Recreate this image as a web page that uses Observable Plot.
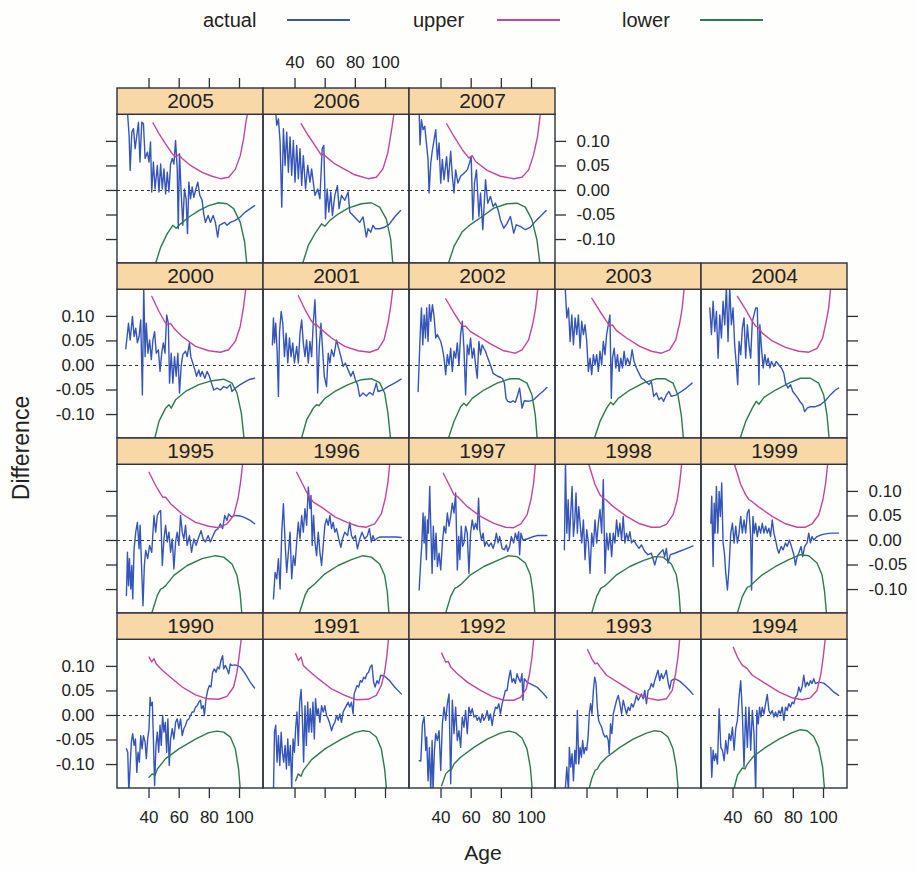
<!DOCTYPE html>
<html>
<head>
<meta charset="utf-8">
<script src="https://cdn.jsdelivr.net/npm/d3@7"></script>
<script src="https://cdn.jsdelivr.net/npm/@observablehq/plot@0.6"></script>
<style>
  html, body { margin: 0; padding: 0; background: #fefefc; }
  #wrap { position: relative; width: 917px; height: 872px; overflow: hidden; font-family: "Liberation Sans", Arial, sans-serif; color: #222; }
  #legend { position: relative; height: 40px; }
  .lg-text { position: absolute; top: 8px; font-size: 20px; line-height: 24px; white-space: nowrap; }
  .lg-line { position: absolute; top: 19px; height: 2px; width: 63px; }
  #ylab { position: absolute; left: 21px; top: 448px; font-size: 23px; transform: translate(-50%, -50%) rotate(-90deg); white-space: nowrap; }
  #xlab { position: absolute; left: 483px; top: 853px; font-size: 21px; transform: translate(-50%, -50%); }
</style>
</head>
<body>
<div id="wrap">
  <div id="legend"></div>
  <div id="chart"></div>
  <div id="ylab">Difference</div>
  <div id="xlab">Age</div>
</div>
<script>
// ---------------- data ----------------
const years = [1990,1991,1992,1993,1994,1995,1996,1997,1998,1999,2000,2001,2002,2003,2004,2005,2006,2007];
const seriesNames = ["actual", "upper", "lower"];
const seriesColors = ["#3556b8", "#c4459c", "#2e7a4c"];
const xTicks = [40, 60, 80, 100];
const xTickLabels = ["40", "60", "80", "100"];
const yTicks = [-0.10, -0.05, 0, 0.05, 0.10];
const yTickLabels = ["-0.10", "-0.05", "0.00", "0.05", "0.10"];

const actual_1990 = [[25,-0.068],[25.9,-0.075],[26.6,-0.155],[27.5,-0.102],[28.3,-0.054],[29.2,-0.037],[30.1,-0.061],[31,-0.048],[31.9,-0.116],[32.7,-0.075],[33.6,-0.095],[34.5,-0.041],[35.4,-0.068],[36.3,-0.041],[37.4,-0.054],[38.2,-0.088],[39.1,-0.048],[40,-0.027],[40.7,0.037],[41.3,0.02],[42.2,0.027],[42.9,-0.048],[43.7,-0.143],[44.6,-0.061],[45.5,-0.034],[46.4,-0.075],[47.3,-0.02],[48.1,-0.061],[49,0],[49.9,-0.034],[50.8,-0.014],[51.7,-0.075],[52.5,-0.007],[53.4,-0.102],[54.3,-0.048],[55.4,-0.027],[56.5,-0.048],[57.6,-0.014],[58.7,-0.007],[59.8,-0.027],[60.9,-0.007],[62,-0.041],[63.1,-0.027],[64.2,-0.02],[65.3,-0.01],[66.4,-0.007],[67.5,0],[68.6,0.007],[69.7,0.007],[70.8,0.017],[71.9,0.02],[73,0.027],[74.1,0.031],[74.8,0.014],[75.9,0.02],[76.7,0],[77.8,0.034],[78.9,0.051],[80,0.061],[81.1,0.058],[82.2,0.088],[83.3,0.095],[84.4,0.088],[85.5,0.099],[86.6,0.095],[87.7,0.112],[88.8,0.122],[89.5,0.095],[90.6,0.102],[91.7,0.095],[92.8,0.085],[93.9,0.105],[95,0.102],[97.2,0.103],[100.5,0.099],[103.8,0.085],[107.1,0.068],[110,0.056]];
const upper_1990 = [[40,0.119],[41.8,0.109],[43.3,0.116],[44.8,0.105],[48.8,0.092],[55.4,0.075],[62,0.058],[70.8,0.042],[78.5,0.034],[86.2,0.033],[91.7,0.039],[96.1,0.058],[98.3,0.088],[99.8,0.122],[101.3,0.16]];
const lower_1990 = [[40,-0.126],[42.2,-0.119],[44,-0.122],[45.5,-0.109],[51,-0.088],[59.8,-0.068],[70.8,-0.048],[79.6,-0.035],[85.1,-0.032],[89.5,-0.034],[93.9,-0.044],[97.2,-0.068],[99.4,-0.109],[100.6,-0.155]];

const actual_1991 = [[25.7,-0.155],[26.4,-0.034],[27.2,-0.02],[28.1,-0.095],[29,-0.041],[29.9,-0.102],[30.8,-0.034],[31.6,-0.075],[32.5,-0.095],[33.4,-0.061],[34.3,-0.109],[35.2,-0.048],[36,-0.102],[36.9,-0.061],[37.8,-0.146],[38.7,-0.048],[39.6,-0.075],[40.4,-0.027],[41.3,0.007],[42.2,-0.061],[43.1,0.027],[44,0.053],[44.8,0],[45.7,-0.095],[46.6,0.02],[47.5,-0.061],[48.4,0.027],[49.2,-0.034],[50.1,0.014],[51,-0.034],[51.9,0.027],[52.8,-0.048],[53.6,0.034],[54.5,0],[55.4,0.014],[56.5,-0.014],[57.6,0.02],[58.7,0.007],[59.8,0.02],[60.9,0],[62,-0.007],[63.1,-0.017],[64.2,-0.031],[65.3,-0.02],[66.4,-0.014],[67.5,0],[68.6,-0.01],[69.7,0.003],[70.8,-0.014],[71.9,0.007],[73,0.014],[74.1,0.02],[75.2,0.027],[76.3,0.017],[77.4,0.027],[78.5,0.003],[79.2,0.044],[80,0.051],[81.1,0.061],[82.2,0.058],[83.3,0.071],[84.4,0.068],[85.5,0.078],[86.6,0.075],[87.7,0.085],[88.8,0.088],[89.9,0.099],[91,0.103],[92.1,0.068],[93.1,0.058],[94.3,0.071],[95.4,0.065],[96.8,0.082],[99.4,0.08],[102.7,0.071],[106,0.058],[110.4,0.044]];
const upper_1991 = [[40.4,0.126],[42.2,0.112],[44,0.119],[45.5,0.102],[48.8,0.092],[55.4,0.075],[64.2,0.054],[73,0.041],[80.7,0.032],[88.4,0.033],[93.9,0.041],[97.2,0.061],[99.4,0.088],[100.9,0.122],[102.1,0.16]];
const lower_1991 = [[40.4,-0.133],[42.2,-0.119],[44,-0.124],[45.5,-0.112],[51,-0.09],[59.8,-0.068],[70.8,-0.048],[79.6,-0.035],[85.1,-0.031],[89.5,-0.033],[93.9,-0.044],[97.2,-0.068],[99.4,-0.109],[100.8,-0.155]];

const actual_1992 = [[25.5,-0.092],[26.6,-0.093],[27.7,-0.017],[28.8,-0.003],[29.9,-0.071],[30.5,-0.044],[31.4,-0.133],[32.3,-0.065],[33.2,-0.155],[34.1,-0.051],[34.7,-0.155],[35.6,-0.071],[36.5,-0.037],[37.6,-0.051],[38.7,-0.031],[39.8,-0.112],[40.9,-0.017],[42,0.017],[43.1,-0.01],[44.2,0.024],[45.3,0.044],[46.4,-0.139],[47.5,0.031],[48.6,-0.037],[49.7,0.017],[50.8,-0.051],[51.9,-0.031],[53,-0.065],[54.1,-0.003],[55.2,-0.024],[56.3,0.01],[57.4,-0.037],[58.5,0.017],[59.6,0.003],[60.7,0.014],[61.8,-0.003],[62.9,0],[64,-0.01],[65.1,-0.003],[66.2,-0.014],[67.3,0.003],[68.4,-0.01],[69.5,-0.003],[70.6,0.01],[71.7,-0.01],[72.8,0.003],[73.9,-0.02],[75,0.003],[76.1,0.017],[77.2,0.014],[78.3,0.024],[79.4,0.003],[80.5,0.024],[81.6,0.037],[82.7,0.051],[83.8,0.051],[84.9,0.075],[86,0.092],[87.1,0.068],[88.2,0.075],[89.3,0.065],[90.4,0.085],[91.5,0.075],[92.6,0.068],[93.7,0.085],[94.3,0.031],[95.2,0.075],[97,0.068],[100.3,0.063],[103.6,0.058],[106.9,0.048],[110.2,0.036]];
const upper_1992 = [[40.4,0.127],[43.1,0.109],[44.8,0.11],[46.4,0.099],[50.8,0.085],[57.4,0.068],[66.2,0.051],[73.9,0.039],[81.6,0.031],[88.2,0.031],[92.6,0.037],[96.5,0.054],[98.7,0.085],[100.3,0.119],[101.6,0.16]];
const lower_1992 = [[40.4,-0.143],[43.1,-0.119],[45.3,-0.112],[46.8,-0.111],[48.6,-0.099],[53,-0.085],[61.8,-0.065],[70.6,-0.048],[79.4,-0.036],[84.9,-0.032],[89.3,-0.035],[93.7,-0.046],[97,-0.068],[99.2,-0.105],[100.6,-0.155]];

const actual_1993 = [[25.5,-0.155],[26.6,-0.105],[27.7,-0.155],[28.3,-0.065],[29.2,-0.105],[30.1,-0.078],[31,-0.133],[31.9,-0.071],[32.7,-0.099],[33.6,0.01],[34.5,-0.099],[35.4,-0.065],[36.3,-0.085],[37.1,-0.051],[38,-0.078],[38.9,-0.065],[39.8,-0.071],[40.7,-0.044],[41.5,0.003],[42.4,0.024],[43.3,0.003],[44.2,0.051],[45.1,0.078],[46,0.065],[46.8,0.017],[47.7,-0.01],[48.6,-0.017],[49.7,-0.024],[50.8,-0.037],[51.9,-0.044],[53,-0.041],[54.1,-0.051],[54.7,-0.078],[55.6,-0.017],[56.5,-0.037],[57.4,0.003],[58.5,0.017],[59.6,0.031],[60.7,0.041],[61.8,0.024],[62.9,0.003],[64,0.031],[65.1,0.017],[66.2,0.003],[67.3,0.017],[68.4,0.01],[69.5,0.024],[70.6,0.017],[71.7,0.027],[72.8,0.041],[73.9,0.031],[75,0.037],[76.1,0.044],[77.2,0.034],[78.3,0.051],[79.4,0.024],[80.5,0.051],[81.6,0.054],[82.7,0.065],[83.8,0.058],[84.9,0.071],[86,0.082],[87.1,0.092],[88.2,0.071],[89.3,0.085],[90.4,0.075],[91.5,0.082],[92.6,0.092],[93.7,0.068],[94.8,0.054],[95.9,0.071],[98.1,0.075],[101.4,0.07],[104.7,0.061],[108,0.051],[110.2,0.043]];
const upper_1993 = [[40.4,0.134],[43.1,0.116],[45.3,0.105],[46.8,0.107],[48.6,0.099],[53,0.082],[61.8,0.065],[70.6,0.048],[79.4,0.036],[87.1,0.031],[92.6,0.034],[96.5,0.051],[98.7,0.085],[100.3,0.119],[101.6,0.16]];
const lower_1993 = [[40.9,-0.155],[43.1,-0.129],[45.3,-0.112],[46.8,-0.109],[48.6,-0.099],[53,-0.085],[61.8,-0.065],[70.6,-0.048],[79.4,-0.036],[84.9,-0.031],[89.3,-0.033],[93.7,-0.044],[97,-0.068],[99.2,-0.105],[100.6,-0.155]];

const actual_1994 = [[25.3,-0.065],[25.9,-0.126],[26.8,-0.071],[27.7,-0.092],[28.6,-0.078],[29.7,-0.099],[30.8,0.014],[31.9,-0.065],[33,-0.071],[34.1,-0.092],[35.2,-0.051],[36.3,-0.078],[37.4,-0.037],[38.5,-0.051],[39.6,-0.024],[40.7,-0.071],[41.8,-0.027],[42.9,-0.01],[44,0.037],[45.1,0.071],[46.2,0.003],[47.3,-0.105],[48.4,0.017],[49.5,-0.065],[50.6,0.017],[51.7,-0.071],[52.8,0.01],[53.9,-0.037],[55,-0.155],[55.8,0.01],[56.7,-0.017],[57.6,0.017],[58.5,-0.003],[59.4,0.017],[60.5,0.003],[61.6,0.024],[62.7,0.043],[63.8,0.01],[64.9,0.003],[66,0.01],[67.1,-0.003],[68.2,0.007],[69.3,-0.003],[70.4,0.01],[71.5,0.003],[72.6,0.017],[73.7,-0.01],[74.8,0.017],[75.9,0.01],[77,0.024],[78.1,0.017],[79.2,0.027],[80.3,0.024],[81.4,0.037],[82.5,0.041],[83.6,0.058],[84.7,0.048],[85.8,0.058],[86.9,0.082],[88,0.058],[89.1,0.068],[90.2,0.061],[91.3,0.071],[92.4,0.065],[93.5,0.075],[94.6,0.065],[96.8,0.068],[100.1,0.066],[103.4,0.058],[106.7,0.048],[110,0.041]];
const upper_1994 = [[40.2,0.139],[42.9,0.119],[46.2,0.102],[47.9,0.099],[49.5,0.095],[52.8,0.082],[61.6,0.065],[70.4,0.048],[79.2,0.036],[85.8,0.032],[91.3,0.036],[95.7,0.051],[98.3,0.085],[99.8,0.119],[101.3,0.16]];
const lower_1994 = [[40.2,-0.155],[42.9,-0.122],[46.2,-0.107],[47.9,-0.109],[49.5,-0.099],[53.9,-0.082],[61.6,-0.065],[70.4,-0.048],[79.2,-0.035],[84.7,-0.029],[89.1,-0.031],[93.5,-0.043],[96.8,-0.065],[99.4,-0.105],[100.8,-0.155]];

const actual_1995 = [[25,-0.112],[25.7,-0.024],[26.4,-0.092],[27,-0.037],[27.9,-0.099],[28.6,-0.051],[29.2,-0.119],[30.1,-0.017],[31.2,0.017],[32.3,0.037],[33.4,-0.017],[34.1,0.031],[35.2,-0.065],[36,-0.133],[36.9,-0.051],[37.8,-0.02],[39.1,-0.037],[40.4,-0.01],[41.8,-0.024],[43.3,0.051],[44.4,0.017],[45.5,0.051],[46.6,0.058],[47.7,0.061],[48.8,-0.051],[49.9,0.003],[51,0.031],[52.1,-0.003],[53.2,0.017],[54.3,-0.024],[55.4,0.003],[56.5,-0.058],[57.6,-0.003],[58.7,0.017],[59.8,-0.01],[60.9,0.051],[62,0.017],[63.1,0.003],[64.2,0.031],[65.3,-0.01],[66.8,0.01],[68.2,-0.024],[69.7,0.003],[71.2,-0.01],[73,0.007],[74.5,0.02],[75.9,0.003],[77.4,-0.003],[79.2,0.01],[80.7,-0.003],[82.5,0.01],[84,0.02],[85.8,0.024],[87.3,0.034],[88.8,0.024],[90.2,0.051],[91.7,0.041],[92.8,0.054],[94.6,0.048],[97.2,0.051],[100.5,0.05],[103.8,0.046],[107.1,0.041],[110,0.034]];
const upper_1995 = [[40,0.139],[44.4,0.112],[47.7,0.095],[49.2,0.088],[51,0.088],[54.3,0.075],[62,0.054],[70.8,0.037],[79.6,0.029],[86.2,0.026],[91.7,0.034],[96.1,0.051],[99,0.085],[100.7,0.119],[102.2,0.16]];
const lower_1995 = [[41.1,-0.155],[45.5,-0.112],[47.7,-0.099],[49.2,-0.097],[51,-0.092],[56.5,-0.071],[65.3,-0.051],[75.2,-0.037],[84,-0.031],[89.5,-0.034],[95,-0.048],[98.3,-0.071],[100.3,-0.105],[101.7,-0.155]];

const actual_1996 = [[25.7,-0.119],[26.8,-0.065],[27.9,-0.078],[29,-0.037],[30.1,-0.099],[31.2,0.017],[32.3,0.075],[33.4,-0.003],[34.5,-0.065],[35.6,-0.024],[36.7,0.017],[37.8,-0.078],[38.9,-0.031],[40,-0.051],[41.1,-0.003],[42.2,0.037],[43.3,0.003],[44.4,0.051],[45.5,0.017],[46.6,0.065],[47.7,0.031],[48.8,0.109],[49.9,0.065],[50.6,0.092],[51.4,-0.01],[52.3,0.051],[53.2,-0.003],[54.3,-0.031],[55.4,0.017],[56.5,-0.024],[57.6,-0.051],[58.7,-0.01],[59.8,0.031],[60.9,0.044],[62,0.031],[63.1,0.051],[64.2,0.024],[65.3,0.037],[66.4,0.017],[67.5,0.024],[69,0.003],[70.4,-0.014],[71.5,0.003],[73,0.017],[74.8,0.01],[76.3,0.037],[77.4,0.01],[78.5,0.003],[80,0.01],[81.4,-0.017],[82.9,0.003],[84.4,0.017],[86.2,0.003],[88,0.01],[89.3,0.024],[90.6,-0.003],[91.7,0.01],[92.8,0],[94.6,0.005],[96.1,0.007],[99.4,0.007],[103.8,0.007],[107.1,0.007],[110.4,0.006]];
const upper_1996 = [[41.1,0.139],[45.5,0.112],[48.8,0.092],[50.6,0.085],[52.1,0.078],[57.6,0.068],[66.4,0.048],[75.2,0.036],[81.8,0.029],[87.3,0.027],[92.8,0.034],[97.2,0.054],[99.8,0.085],[101.6,0.119],[102.9,0.16]];
const lower_1996 = [[42.2,-0.155],[46.6,-0.112],[48.8,-0.099],[50.6,-0.095],[53.2,-0.088],[59.8,-0.068],[68.6,-0.051],[77.4,-0.039],[85.1,-0.031],[90.6,-0.034],[96.1,-0.048],[99.4,-0.071],[101.2,-0.105],[102.4,-0.155]];

const actual_1997 = [[25.5,-0.101],[26.6,-0.039],[27.2,-0.012],[28.1,0.056],[28.8,-0.005],[29.4,0.049],[30.3,-0.039],[31,0.042],[31.6,0.015],[32.5,0.11],[33.2,0.029],[34.1,-0.067],[34.9,0.029],[35.8,-0.039],[36.7,0.015],[37.6,-0.053],[38.7,-0.026],[39.8,-0.06],[40.9,-0.005],[42,0.029],[43.1,0.015],[44.2,0.056],[45.3,0.029],[46.4,0.049],[47.5,0.076],[48.6,0.056],[49.7,0.097],[50.8,-0.06],[51.7,0.008],[52.5,-0.039],[53.4,0.029],[54.3,-0.012],[55.2,-0.005],[56.3,0.029],[57.4,0.015],[58.5,-0.067],[59.6,0.015],[60.7,0.042],[61.8,0.022],[62.9,0.035],[64,0.022],[64.9,0.086],[65.7,0.022],[66.8,0.001],[67.9,0.015],[69,-0.012],[70.1,-0.002],[71.7,-0.012],[73.2,-0.005],[74.5,-0.016],[75.6,-0.005],[76.7,0.015],[77.8,-0.005],[78.9,0.008],[80.5,-0.016],[82,-0.019],[83.3,-0.009],[84.2,-0.022],[85.5,-0.012],[86.6,0.008],[88.2,-0.005],[89.3,0.015],[90.4,0.001],[91.5,0.018],[92.1,-0.029],[93,0.015],[94.3,0.001],[97,0.003],[100.3,0.007],[103.6,0.01],[106.9,0.01],[110.2,0.01]];
const upper_1997 = [[41.5,0.137],[45.3,0.114],[48.6,0.093],[50.8,0.09],[53,0.083],[57.4,0.069],[66.2,0.049],[75,0.035],[82.7,0.027],[88.2,0.026],[93,0.034],[97,0.052],[99.6,0.083],[101.4,0.117],[102.7,0.16]];
const lower_1997 = [[42.4,-0.155],[46.4,-0.114],[49.2,-0.097],[50.8,-0.095],[53,-0.09],[59.6,-0.07],[68.4,-0.053],[77.2,-0.041],[84.9,-0.031],[90.4,-0.033],[95.9,-0.046],[99.2,-0.07],[100.9,-0.104],[102.4,-0.155]];

const actual_1998 = [[25,-0.019],[25.7,0.16],[26.6,0.015],[27.5,0.083],[28.3,0.001],[29.2,0.056],[30.1,0.11],[31,0.008],[31.9,0.042],[32.7,0.097],[33.6,0.015],[34.5,0.069],[35.4,0.035],[36.5,-0.005],[37.6,0.042],[38.7,-0.039],[39.8,0.022],[40.9,-0.005],[42,-0.067],[43.1,0.015],[44.2,-0.012],[45.3,0.042],[46.4,-0.005],[47.5,0.035],[48.6,0.063],[49.7,0.015],[50.8,0.124],[51.9,-0.067],[53,0.015],[54.1,-0.019],[55.2,0.015],[56.3,-0.033],[57.4,0.015],[58.5,-0.005],[59.6,0.042],[60.7,0.008],[61.8,0.035],[62.9,0.001],[64,0.049],[65.1,-0.005],[66.2,0.015],[67.3,0.001],[68.4,0.018],[69.5,-0.005],[71,0.001],[72.8,-0.009],[74.5,-0.016],[76.1,-0.009],[78.2,-0.022],[80.4,-0.029],[82.7,-0.026],[84.9,-0.05],[86.4,-0.033],[88.2,-0.026],[90.4,-0.019],[91.5,-0.033],[92.6,-0.016],[93.7,-0.046],[95.2,-0.029],[98.1,-0.026],[101.4,-0.022],[104.7,-0.018],[108,-0.014],[110.2,-0.011]];
const upper_1998 = [[40.7,0.16],[45.3,0.114],[48.6,0.093],[50.8,0.086],[52.5,0.083],[57.4,0.069],[66.2,0.049],[75,0.034],[82.7,0.027],[88.2,0.027],[92.6,0.033],[97,0.052],[99.8,0.083],[101.4,0.117],[102.9,0.16]];
const lower_1998 = [[42.4,-0.155],[46.4,-0.114],[49.2,-0.097],[51.2,-0.094],[53.4,-0.088],[59.6,-0.07],[68.4,-0.053],[77.2,-0.041],[84.9,-0.033],[90.4,-0.034],[95.9,-0.048],[99.2,-0.07],[100.9,-0.104],[102.1,-0.155]];

const actual_1999 = [[25.3,0.035],[25.9,0.09],[26.8,-0.053],[27.5,0.076],[28.1,0.015],[29,0.11],[29.9,0.015],[30.8,0.1],[31.6,0.049],[32.5,0.117],[33.4,-0.005],[34.3,-0.026],[35.2,-0.067],[36.3,-0.101],[37.4,-0.053],[38.5,0.015],[39.6,0.035],[40.7,-0.005],[41.8,0.029],[42.9,-0.005],[44,0.015],[45.1,0.049],[46.2,0.015],[47.3,0.042],[48.4,0.015],[49.5,0.056],[50.6,0.063],[51.7,0.008],[52.3,-0.101],[53.2,0.049],[54.1,0.015],[55,0.035],[56.1,0.008],[57.2,0.029],[58.3,0.015],[59.4,0.035],[60.5,0.015],[61.6,0.029],[62.7,0.015],[63.8,0.025],[64.9,0.008],[66,0.042],[67.1,0.015],[68.2,0.001],[69.3,-0.016],[70.4,-0.026],[71.9,-0.012],[73.2,-0.019],[74.8,-0.005],[75.9,-0.012],[77.4,0.001],[78.7,-0.012],[80.3,-0.029],[81.4,-0.05],[82.5,-0.033],[83.6,-0.026],[85.1,-0.012],[86.2,-0.033],[87.5,-0.012],[89.1,-0.005],[90.2,0.015],[91.3,-0.005],[92.4,0.008],[93.5,0.001],[95.7,0.008],[99,0.012],[102.3,0.014],[105.6,0.015],[110,0.015]];
const upper_1999 = [[40.5,0.16],[45.1,0.114],[48.4,0.093],[50.6,0.083],[52.3,0.08],[57.2,0.068],[66,0.049],[74.8,0.034],[82.5,0.027],[88,0.027],[92.4,0.034],[96.8,0.052],[99.6,0.083],[101.4,0.117],[102.9,0.16]];
const lower_1999 = [[42.2,-0.155],[46.2,-0.114],[49.5,-0.095],[51,-0.094],[53.2,-0.087],[59.4,-0.07],[68.2,-0.053],[77,-0.039],[84.7,-0.029],[90.2,-0.031],[95.7,-0.046],[99,-0.07],[100.7,-0.104],[102.1,-0.155]];

const actual_2000 = [[24.6,0.034],[26.4,0.086],[27.5,0.052],[29,0.1],[30.1,0.059],[31.2,0.076],[32.3,0.046],[33.4,0.059],[34.5,0.093],[35.6,-0.06],[36.5,0.16],[37.4,0.018],[38.2,0.086],[39.3,0.025],[40.4,0.052],[41.5,0.012],[42.6,0.052],[43.7,0.069],[44.8,0.025],[46.2,0.032],[47.3,-0.012],[48.4,0.025],[49.5,0.046],[50.6,0.025],[51.7,0.103],[52.8,0.086],[53.6,-0.036],[54.7,0.025],[55.8,-0.036],[56.9,0.018],[58,-0.022],[59.1,0.025],[60.2,-0.056],[61.3,-0.002],[62.4,0.022],[64.2,0.029],[65.3,0.018],[66.8,0.046],[67.7,0.018],[69,0.005],[70.4,-0.009],[71.5,-0.022],[73,-0.009],[74.1,-0.022],[75.2,-0.012],[77,-0.026],[78.5,-0.012],[80,-0.022],[81.4,-0.036],[82.9,-0.05],[85.1,-0.046],[87.3,-0.05],[89.5,-0.043],[91.7,-0.046],[93.9,-0.039],[95,-0.053],[97.2,-0.046],[100.5,-0.039],[103.8,-0.033],[107.1,-0.028],[110,-0.026]];
const upper_2000 = [[41.8,0.141],[46.6,0.11],[51,0.086],[52.8,0.083],[54.3,0.086],[56.5,0.076],[62,0.059],[70.8,0.039],[79.6,0.03],[87.3,0.027],[92.8,0.032],[97.2,0.049],[100.5,0.08],[102.7,0.12],[104.3,0.16]];
const lower_2000 = [[43.3,-0.155],[46.6,-0.114],[51,-0.087],[53.2,-0.08],[54.7,-0.087],[57.6,-0.07],[64.2,-0.053],[73,-0.039],[81.8,-0.031],[89.5,-0.028],[95,-0.036],[98.3,-0.056],[101.2,-0.097],[103.2,-0.155]];

const actual_2001 = [[25,0.042],[25.7,0.097],[26.4,0.046],[27.2,0.086],[28.1,0.032],[29,-0.063],[29.7,0.066],[30.8,0.11],[31.9,0.086],[33,0.018],[34.1,0.066],[35.2,0.005],[36.3,0.056],[37.4,0.018],[38.5,0.046],[39.6,0.005],[41.1,0.039],[42.2,0.005],[43.3,0.066],[44.4,0.093],[45.5,0.046],[46.6,0.018],[47.7,0.052],[48.8,0.005],[49.9,0.049],[51,0.018],[52.1,0.086],[53.2,0.134],[54.3,0.052],[55,-0.056],[56.1,0.039],[57.2,0.086],[58.3,0.032],[59.4,-0.022],[60.9,-0.043],[62,0.025],[63.1,0.005],[64.2,0.032],[65.7,0.018],[67.5,0.052],[68.6,0.039],[70.4,0.018],[71.9,-0.002],[73.4,0.005],[75.2,-0.009],[77,-0.022],[78.5,-0.012],[80,-0.029],[81.4,-0.039],[82.9,-0.063],[85.1,-0.056],[87.3,-0.062],[89.5,-0.055],[91.7,-0.06],[93.9,-0.036],[95,-0.053],[98.3,-0.05],[101.6,-0.043],[106,-0.036],[110.4,-0.028]];
const upper_2001 = [[42.2,0.142],[46.6,0.114],[51,0.09],[53.2,0.083],[54.3,0.083],[57.6,0.073],[64.2,0.056],[73,0.039],[81.8,0.03],[89.5,0.027],[95,0.033],[99,0.052],[101.6,0.086],[103.4,0.12],[105,0.16]];
const lower_2001 = [[43.7,-0.155],[47.7,-0.111],[52.1,-0.087],[54.3,-0.08],[55.8,-0.082],[59.8,-0.067],[66.4,-0.053],[75.2,-0.039],[84,-0.029],[90.6,-0.027],[96.1,-0.035],[99.4,-0.056],[101.6,-0.097],[103.5,-0.155]];

const actual_2002 = [[24.8,-0.053],[26.1,0.056],[27,0.117],[27.9,0.042],[28.8,0.103],[29.7,0.056],[30.5,0.117],[31.4,0.049],[32.3,0.124],[33.2,0.09],[34.3,0.124],[35.4,0.1],[36.5,0.056],[37.6,0.063],[38.7,0.056],[39.8,0.049],[40.9,0.035],[42,0.015],[43.1,-0.019],[44.2,0.022],[45.3,0.001],[46.4,0.035],[47.5,-0.012],[48.6,0.029],[49.7,0.015],[50.8,0.046],[51.9,0.001],[53,0.063],[54.1,0.09],[55.2,0.035],[56.3,-0.06],[57.4,0.042],[58.5,0.022],[59.6,0.056],[60.7,0.015],[61.8,0.035],[62.9,0.001],[64,-0.026],[65.1,0.049],[66.2,0.022],[67.3,0.042],[68.4,0.035],[69.5,0.029],[71,0.015],[72.8,0.001],[74.5,-0.016],[76.1,-0.019],[77.6,-0.022],[79.4,-0.024],[80.9,-0.027],[82,-0.036],[83.1,-0.067],[84.2,-0.073],[86,-0.075],[87.7,-0.072],[89.3,-0.075],[90.8,-0.06],[92.1,-0.046],[93.7,-0.087],[95.2,-0.072],[98.1,-0.073],[101.4,-0.07],[104.7,-0.06],[107.5,-0.053],[110.2,-0.045]];
const upper_2002 = [[43.1,0.136],[48.6,0.107],[53,0.086],[54.8,0.08],[56.3,0.08],[59.6,0.069],[65.1,0.059],[72.8,0.044],[81.6,0.03],[89.3,0.025],[93.7,0.032],[98.1,0.052],[100.9,0.086],[102.7,0.117],[104.3,0.16]];
const lower_2002 = [[44.2,-0.155],[48.6,-0.114],[53,-0.084],[55.2,-0.077],[56.9,-0.082],[60.7,-0.067],[68.4,-0.05],[77.2,-0.036],[86,-0.027],[91.5,-0.027],[97,-0.036],[100.3,-0.06],[102.5,-0.101],[103.9,-0.155]];

const actual_2003 = [[25.5,0.16],[26.6,0.097],[27.7,0.117],[28.8,0.049],[29.9,0.103],[31,0.042],[32.1,0.097],[33.2,0.063],[34.3,0.103],[35.4,0.035],[36.5,0.09],[37.6,0.063],[38.7,0.083],[39.8,0.049],[40.9,-0.012],[42,0.015],[43.1,-0.019],[44.2,0.022],[45.3,0.001],[46.4,0.022],[47.5,-0.012],[48.6,0.029],[49.7,0.001],[50.8,0.049],[51.9,0.022],[53,0.063],[54.1,0.083],[55.2,0.103],[56.1,-0.067],[56.9,0.015],[58,0.035],[59.1,-0.005],[60.2,0.022],[61.3,-0.012],[62.4,0.015],[63.5,-0.005],[64.6,0.029],[65.7,0.001],[66.8,0.015],[68.4,0.001],[69.9,0.032],[71.2,0.008],[72.8,-0.005],[74.5,-0.016],[76.1,-0.026],[77.8,-0.029],[79.4,-0.034],[81.1,-0.039],[82.7,-0.033],[84.2,-0.063],[86,-0.056],[87.7,-0.07],[89.3,-0.065],[90.8,-0.073],[92.6,-0.06],[94.3,-0.053],[95.9,-0.063],[99.2,-0.06],[102.5,-0.053],[105.8,-0.046],[109.7,-0.036]];
const upper_2003 = [[43.1,0.137],[48.6,0.11],[53,0.09],[55.2,0.08],[56.7,0.083],[59.6,0.071],[66.2,0.056],[75,0.039],[82.7,0.029],[89.3,0.025],[94.8,0.032],[98.8,0.052],[101.4,0.086],[103.1,0.117],[104.5,0.16]];
const lower_2003 = [[44.2,-0.155],[48.6,-0.114],[53,-0.087],[55.6,-0.075],[57.4,-0.08],[60.7,-0.067],[68.4,-0.05],[77.2,-0.036],[86,-0.027],[91.5,-0.027],[97,-0.036],[100.3,-0.06],[102.5,-0.101],[104.1,-0.155]];

const actual_2004 = [[24.6,0.117],[25.7,0.063],[26.8,0.131],[27.9,0.069],[29,0.11],[30.1,0.015],[31.2,0.103],[32.3,0.056],[33.4,0.131],[34.5,0.083],[35.6,0.16],[36.7,0.049],[37.8,0.16],[38.9,0.083],[40,0.117],[41.1,0.042],[42.2,0.001],[43.1,-0.039],[44,0.049],[45.1,0.022],[46.2,0.076],[47.3,0.097],[48.4,0.015],[49.5,0.083],[50.6,0.042],[51.7,0.015],[52.8,0.09],[53.9,0.103],[55,0.117],[56.1,0.117],[57.2,-0.039],[57.8,0.083],[58.9,0.035],[60,-0.005],[61.1,0.022],[62.2,0.001],[63.3,0.015],[64.4,-0.005],[65.5,0.008],[67.1,-0.002],[68.6,0.008],[70.4,0.001],[72.1,-0.005],[73.7,-0.016],[74.8,-0.036],[76.5,-0.046],[78.1,-0.039],[79.6,-0.053],[81.4,-0.06],[83.1,-0.067],[84.7,-0.075],[86.2,-0.08],[87.5,-0.094],[89.1,-0.087],[91.3,-0.084],[94.6,-0.084],[97.9,-0.08],[101.2,-0.072],[104.5,-0.06],[107.8,-0.05],[110,-0.046]];
const upper_2004 = [[42.9,0.141],[48.4,0.114],[52.8,0.09],[55,0.08],[56.7,0.078],[59.4,0.066],[66,0.05],[74.8,0.037],[83.6,0.029],[90.2,0.027],[95.7,0.035],[99.4,0.056],[101.8,0.09],[103.4,0.117],[104.8,0.16]];
const lower_2004 = [[44,-0.155],[48.4,-0.114],[52.8,-0.087],[55.4,-0.073],[57.2,-0.079],[60.5,-0.065],[68.2,-0.05],[77,-0.036],[84.7,-0.026],[91.3,-0.026],[96.8,-0.036],[100.1,-0.06],[102.3,-0.101],[103.9,-0.155]];

const actual_2005 = [[25.7,0.16],[26.8,0.112],[27.5,0.041],[28.6,0.119],[29.7,0.126],[30.8,0.085],[31.9,0.112],[33,0.139],[34,0.058],[35.2,0.139],[36.3,0.136],[37.4,0.065],[38.9,0.078],[40,0.058],[41,0.099],[41.8,-0.003],[42.9,0.058],[44,0.003],[45.5,0.051],[46.6,-0.003],[47.7,0.054],[48.8,0.003],[49.9,0.044],[51,-0.007],[52.1,0.037],[53.2,-0.003],[54.3,0.054],[55.4,0.065],[56.5,0.054],[57.6,0.102],[58.7,0.044],[59.4,-0.078],[60.2,0.075],[61.3,-0.003],[62.4,-0.071],[63.5,0.003],[64.6,-0.017],[65.5,-0.088],[66.4,0.017],[67.5,-0.017],[68.6,0.007],[69.7,-0.014],[70.8,0],[72.3,0.017],[73.7,-0.01],[75.2,-0.02],[76.3,-0.048],[77.4,-0.065],[79.2,-0.051],[80.7,-0.065],[82.5,-0.051],[84,-0.065],[85.5,-0.095],[86.6,-0.071],[88.4,-0.068],[90.2,-0.065],[91.7,-0.071],[93.9,-0.065],[97.2,-0.061],[100.5,-0.054],[103.8,-0.044],[107.1,-0.037],[110,-0.031]];
const upper_2005 = [[42.6,0.138],[46.6,0.116],[51,0.095],[55.4,0.075],[58,0.068],[59.4,0.073],[62,0.065],[67.5,0.051],[75.2,0.037],[81.8,0.029],[87.3,0.024],[92.8,0.027],[97.2,0.043],[100.5,0.071],[102.7,0.105],[104.2,0.139],[105.5,0.16]];
const lower_2005 = [[43.7,-0.155],[47.7,-0.116],[52.1,-0.088],[55.8,-0.071],[58,-0.077],[60.9,-0.068],[66.4,-0.054],[73,-0.041],[79.6,-0.031],[86.2,-0.025],[91.7,-0.027],[96.1,-0.037],[100.5,-0.065],[103.4,-0.105],[105,-0.155]];

const actual_2006 = [[27.2,0.16],[27.9,0.133],[29,0.146],[30.1,0.099],[31.2,-0.034],[32.3,0.126],[33.4,0.051],[34.5,0.119],[35.6,0.037],[36.7,0.109],[37.8,0.031],[38.9,0.102],[40,0.017],[41.1,0.092],[42.2,0.024],[43.3,0.085],[44.4,0.01],[45.5,0.071],[47,0.003],[48.4,0.051],[49.9,0.017],[51,0.044],[53.2,-0.01],[55,0.003],[56.5,-0.017],[58,0.085],[59.1,0.092],[60.2,-0.058],[61.3,0.003],[62.4,-0.044],[63.7,-0.003],[64.8,-0.051],[66.4,-0.01],[68.1,0.01],[69.2,-0.037],[70.8,-0.01],[73,-0.02],[75.2,-0.003],[76.3,-0.044],[78.5,-0.051],[80.7,-0.058],[82.9,-0.065],[85.1,-0.054],[87.3,-0.095],[88.4,-0.078],[90.2,-0.085],[91.7,-0.071],[93.2,-0.078],[96.1,-0.078],[99.4,-0.075],[102.7,-0.068],[106,-0.054],[110,-0.041]];
const upper_2006 = [[44,0.136],[48.8,0.112],[53.2,0.092],[57.6,0.071],[58.7,0.075],[60.9,0.068],[66.4,0.054],[73,0.043],[79.6,0.032],[88.4,0.024],[93.9,0.027],[98.3,0.044],[101.6,0.078],[103.8,0.119],[105.8,0.16]];
const lower_2006 = [[44.4,-0.155],[48.8,-0.112],[53.2,-0.088],[57.6,-0.068],[59.8,-0.073],[63.1,-0.061],[68.6,-0.048],[75.2,-0.036],[84,-0.027],[90.6,-0.025],[96.1,-0.034],[100.5,-0.058],[103.4,-0.099],[105,-0.155]];

const actual_2007 = [[25.5,0.16],[26.1,0.093],[27,0.144],[28.1,0.124],[29.2,0.131],[30.3,0.097],[31.4,0.063],[32.1,-0.005],[33.2,0.056],[34.3,0.083],[35.4,0.103],[36.5,0.124],[37.6,0.063],[38.7,0.097],[39.8,0.015],[40.9,0.063],[42,0.022],[43.7,0.069],[44.8,0.018],[46.4,0.08],[47.5,0.029],[48.6,-0.005],[49.7,0.042],[51.2,0.015],[53,0.029],[55.2,0.035],[57.4,0.042],[58.9,0.056],[60,0.069],[61.1,-0.06],[62.2,0.015],[63.5,0.042],[65.1,-0.053],[66.2,-0.005],[67.7,-0.08],[69.5,0.022],[71,-0.026],[72.8,-0.012],[74.5,-0.033],[76.1,-0.026],[77.8,-0.039],[79.4,-0.06],[81.6,-0.077],[83.8,-0.067],[86,-0.053],[88.2,-0.087],[89.9,-0.07],[92.6,-0.073],[95.9,-0.08],[99.2,-0.075],[102.5,-0.063],[105.8,-0.053],[109.7,-0.041]];
const upper_2007 = [[43.7,0.136],[48.6,0.11],[54.1,0.083],[58.5,0.066],[60.7,0.071],[62.9,0.059],[70.6,0.041],[79.4,0.029],[88.2,0.024],[93.7,0.027],[98.1,0.042],[101.4,0.073],[104,0.11],[106,0.16]];
const lower_2007 = [[44.2,-0.155],[48.6,-0.114],[54.1,-0.084],[58.5,-0.072],[60.7,-0.067],[67.3,-0.053],[75,-0.036],[83.8,-0.027],[90.4,-0.026],[95.9,-0.034],[100.3,-0.06],[103.6,-0.101],[105.8,-0.155]];

// which panels carry which axis pieces (col, row with row 0 = top)
const bottomTickPanels = [[0,3],[1,3],[2,3],[3,3],[4,3]];
const bottomLabelPanels = [[0,3],[2,3],[4,3]];
const topTickPanels = [[0,0],[1,0],[2,0]];
const topLabelPanels = [[1,0]];
const leftTickPanels = [[0,0],[0,1],[0,2],[0,3]];
const leftLabelPanels = [[0,1],[0,3]];
const rightTickPanels = [[2,0],[4,1],[4,2],[4,3]];
const rightLabelPanels = [[2,0],[4,2]];

// ---------------- assembly ----------------
const seriesByYear = {
  1990:[actual_1990,upper_1990,lower_1990], 1991:[actual_1991,upper_1991,lower_1991],
  1992:[actual_1992,upper_1992,lower_1992], 1993:[actual_1993,upper_1993,lower_1993],
  1994:[actual_1994,upper_1994,lower_1994], 1995:[actual_1995,upper_1995,lower_1995],
  1996:[actual_1996,upper_1996,lower_1996], 1997:[actual_1997,upper_1997,lower_1997],
  1998:[actual_1998,upper_1998,lower_1998], 1999:[actual_1999,upper_1999,lower_1999],
  2000:[actual_2000,upper_2000,lower_2000], 2001:[actual_2001,upper_2001,lower_2001],
  2002:[actual_2002,upper_2002,lower_2002], 2003:[actual_2003,upper_2003,lower_2003],
  2004:[actual_2004,upper_2004,lower_2004], 2005:[actual_2005,upper_2005,lower_2005],
  2006:[actual_2006,upper_2006,lower_2006], 2007:[actual_2007,upper_2007,lower_2007]
};

const X_MIN = 19.1, X_MAX = 115.9;
const Y_MIN = -0.1488, Y_PANEL_TOP = 0.1543, Y_STRIP_TOP = 0.2078;

const panels = years.map((year, i) => ({year, col: i % 5, row: 3 - Math.floor(i / 5)}));
const lineRows = [];
for (const p of panels) {
  seriesByYear[p.year].forEach((arr, k) => {
    for (const [age, val] of arr) lineRows.push({age, val, series: seriesNames[k], col: p.col, row: p.row});
  });
}
const expand = (list, values, labels) => list.flatMap(([col, row]) => values.map((v, i) => ({col, row, v, label: labels ? labels[i] : ""})));

const INK = "#2b313c";
const STRIP = "#f8d8a6";
const FONT = "Liberation Sans, Arial, sans-serif";

const chart = Plot.plot({
  width: 917, height: 832,
  marginLeft: 115, marginRight: 68, marginTop: 47, marginBottom: 84,
  x: {domain: [X_MIN, X_MAX], axis: null},
  y: {domain: [Y_MIN, Y_STRIP_TOP], axis: null},
  fx: {domain: [0,1,2,3,4], axis: null, padding: 0},
  fy: {domain: [0,1,2,3], axis: null, padding: 0},
  color: {domain: seriesNames, range: seriesColors},
  style: {fontFamily: FONT, fontSize: "17px", color: "#222", background: "transparent", overflow: "visible"},
  marks: [
    Plot.ruleY(panels, {y: 0, x1: X_MIN, x2: X_MAX, fx: "col", fy: "row", stroke: "#333", strokeWidth: 1.1, strokeDasharray: "3,3"}),
    Plot.line(lineRows, {x: "age", y: "val", z: "series", stroke: "series", fx: "col", fy: "row", strokeWidth: 1.4, clip: true}),
    Plot.rect(panels, {x1: X_MIN, x2: X_MAX, y1: Y_MIN, y2: Y_PANEL_TOP, fx: "col", fy: "row", fill: "none", stroke: INK, strokeWidth: 1.4}),
    Plot.rect(panels, {x1: X_MIN, x2: X_MAX, y1: Y_PANEL_TOP, y2: Y_STRIP_TOP, fx: "col", fy: "row", fill: STRIP, stroke: INK, strokeWidth: 1.4}),
    Plot.text(panels, {x: (X_MIN + X_MAX) / 2, y: (Y_PANEL_TOP + Y_STRIP_TOP) / 2, text: d => String(d.year), fx: "col", fy: "row", fontSize: 21, fill: "#222"}),
    // bottom axis
    Plot.ruleX(expand(bottomTickPanels, xTicks), {x: "v", y1: Y_MIN, y2: Y_MIN, insetBottom: -10, fx: "col", fy: "row", stroke: INK, strokeWidth: 1.3}),
    Plot.text(expand(bottomLabelPanels, xTicks, xTickLabels), {x: "v", y: Y_MIN, dy: 29, text: "label", fx: "col", fy: "row", fontSize: 17, fill: "#222"}),
    // top axis
    Plot.ruleX(expand(topTickPanels, xTicks), {x: "v", y1: Y_STRIP_TOP, y2: Y_STRIP_TOP, insetTop: -10, fx: "col", fy: "row", stroke: INK, strokeWidth: 1.3}),
    Plot.text(expand(topLabelPanels, xTicks, xTickLabels), {x: "v", y: Y_STRIP_TOP, dy: -26, text: "label", fx: "col", fy: "row", fontSize: 17, fill: "#222"}),
    // left axis
    Plot.ruleY(expand(leftTickPanels, yTicks), {y: "v", x1: X_MIN, x2: X_MIN, insetLeft: -11, fx: "col", fy: "row", stroke: INK, strokeWidth: 1.3}),
    Plot.text(expand(leftLabelPanels, yTicks, yTickLabels), {x: X_MIN, y: "v", dx: -23, textAnchor: "end", text: "label", fx: "col", fy: "row", fontSize: 17, fill: "#222"}),
    // right axis
    Plot.ruleY(expand(rightTickPanels, yTicks), {y: "v", x1: X_MAX, x2: X_MAX, insetRight: -11, fx: "col", fy: "row", stroke: INK, strokeWidth: 1.3}),
    Plot.text(expand(rightLabelPanels, yTicks, yTickLabels), {x: X_MAX, y: "v", dx: 21, textAnchor: "start", text: "label", fx: "col", fy: "row", fontSize: 17, fill: "#222"})
  ]
});
document.getElementById("chart").appendChild(chart);

// legend (lattice-style key: label then line sample)
const legendPos = [{tx: 203, lx: 287}, {tx: 413, lx: 497}, {tx: 622, lx: 700}];
const legend = document.getElementById("legend");
seriesNames.forEach((name, i) => {
  const t = document.createElement("div");
  t.className = "lg-text"; t.textContent = name; t.style.left = legendPos[i].tx + "px";
  legend.appendChild(t);
  const l = document.createElement("div");
  l.className = "lg-line"; l.style.left = legendPos[i].lx + "px"; l.style.background = seriesColors[i];
  legend.appendChild(l);
});
</script>
</body>
</html>
